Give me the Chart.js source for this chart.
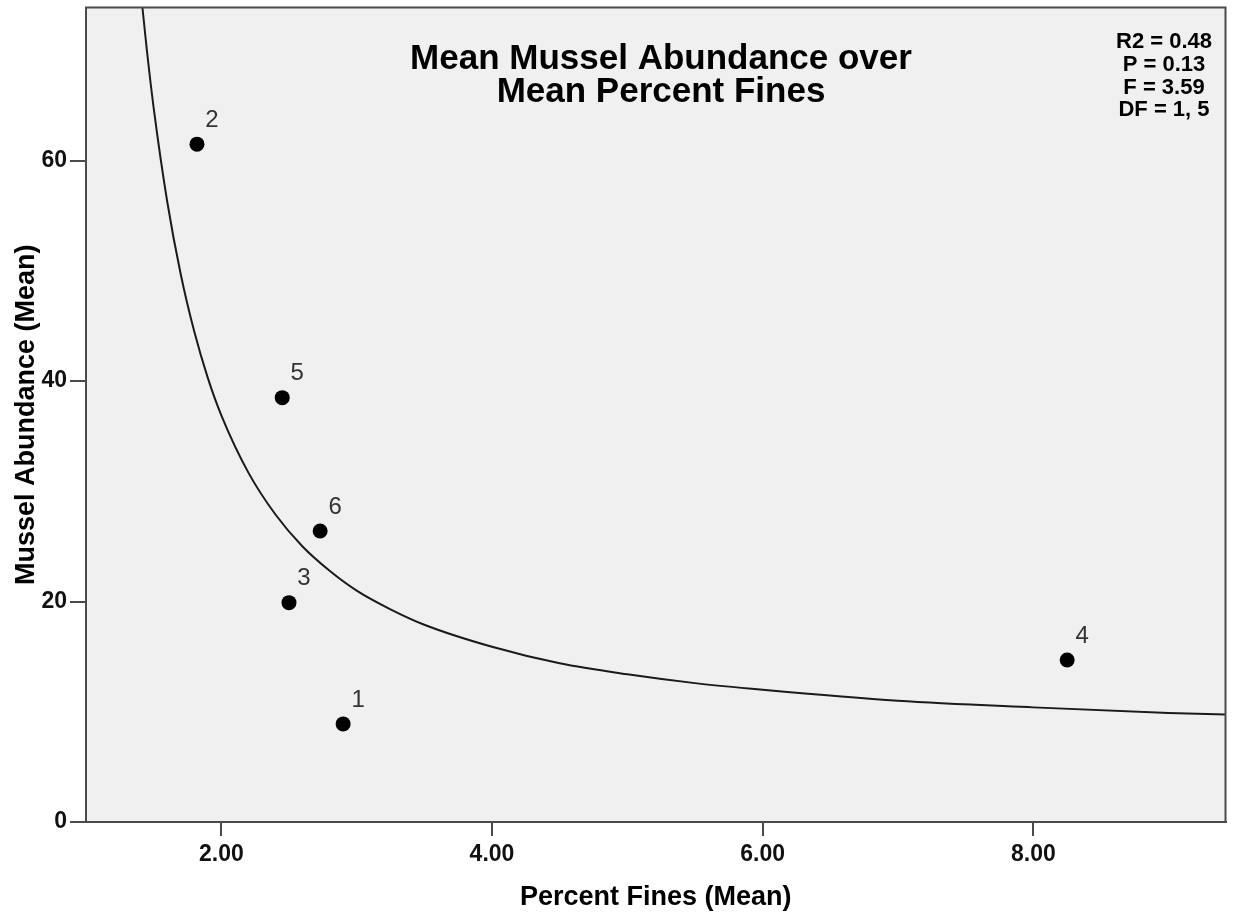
<!DOCTYPE html>
<html>
<head>
<meta charset="utf-8">
<script src="https://cdn.jsdelivr.net/npm/chart.js@4/dist/chart.umd.min.js"></script>
<style>
  html, body { margin: 0; padding: 0; background: #ffffff; overflow: hidden; }
  #wrap { width: 1233px; height: 919px; position: relative; }
  #chart { display: block; }
</style>
</head>
<body>
<div id="wrap"><canvas id="chart"></canvas></div>
<script>
// Case numbers and their means
const caseIds = ['1', '2', '3', '4', '5', '6'];
const percentFines = [2.90, 1.82, 2.50, 8.25, 2.45, 2.73];
const musselAbundance = [8.9, 61.5, 19.9, 14.7, 38.5, 26.4];

// Fitted curve, traced along its length
const fitX = [1.417, 1.45, 1.5, 1.6, 1.7, 1.8, 1.9, 2.0, 2.2, 2.4, 2.6, 2.8, 3.0, 3.25, 3.5, 4.0, 4.5, 5.0, 5.5, 6.0, 7.0, 8.0, 9.0, 9.42];
const fitY = [73.9, 70.0, 64.8, 56.3, 49.7, 44.5, 40.3, 36.9, 31.7, 27.9, 25.0, 22.8, 21.0, 19.3, 17.9, 15.9, 14.4, 13.4, 12.6, 12.0, 11.0, 10.4, 9.9, 9.76];

// Axis ticks
const xTicks = [2, 4, 6, 8];
const yTicks = [0, 20, 40, 60];

// Chart text
const titleLines = ['Mean Mussel Abundance over', 'Mean Percent Fines'];
const statLines = ['R2 = 0.48', 'P = 0.13', 'F = 3.59', 'DF = 1, 5'];
const xTitle = 'Percent Fines (Mean)';
const yTitle = 'Mussel Abundance (Mean)';

const FONT = '"Liberation Sans", Arial, sans-serif';
const AXIS_COLOR = '#4a4a4a';

const plotFrame = {
  id: 'plotFrame',
  beforeDatasetsDraw(chart) {
    const { ctx, chartArea: a } = chart;
    ctx.save();
    ctx.fillStyle = '#f0f0f0';
    ctx.fillRect(a.left, a.top, a.right - a.left, a.bottom - a.top);
    ctx.restore();
  },
  afterDatasetsDraw(chart) {
    const { ctx, chartArea: a } = chart;
    ctx.save();
    ctx.strokeStyle = AXIS_COLOR;
    ctx.lineWidth = 2;
    ctx.strokeRect(a.left, a.top, a.right - a.left, a.bottom - a.top);
    ctx.restore();
  }
};

const annotations = {
  id: 'annotations',
  afterDatasetsDraw(chart) {
    const { ctx } = chart;
    ctx.save();
    // case number next to each point
    const meta = chart.getDatasetMeta(0);
    ctx.fillStyle = '#333333';
    ctx.font = '24px ' + FONT;
    ctx.textAlign = 'center';
    ctx.textBaseline = 'middle';
    meta.data.forEach((pt, i) => {
      ctx.fillText(caseIds[i], pt.x + 15, pt.y - 24);
    });
    // title inside the plot
    ctx.fillStyle = '#000000';
    ctx.font = 'bold 35px ' + FONT;
    ctx.textBaseline = 'alphabetic';
    ctx.fillText(titleLines[0], 661, 69);
    ctx.fillText(titleLines[1], 661, 101.5);
    // fit statistics
    ctx.font = 'bold 22px ' + FONT;
    const baselines = [48, 71, 93.5, 116];
    statLines.forEach((s, i) => ctx.fillText(s, 1164, baselines[i]));
    ctx.restore();
  }
};

new Chart(document.getElementById('chart'), {
  type: 'scatter',
  data: {
    datasets: [
      {
        label: 'Cases',
        data: percentFines.map((x, i) => ({ x: x, y: musselAbundance[i] })),
        pointRadius: 7.5,
        pointBackgroundColor: '#000000',
        pointBorderWidth: 0,
        pointHoverRadius: 7.5
      },
      {
        label: 'Fit',
        data: fitX.map((x, i) => ({ x: x, y: fitY[i] })),
        showLine: true,
        pointRadius: 0,
        pointHoverRadius: 0,
        borderColor: '#1a1a1a',
        borderWidth: 2,
        cubicInterpolationMode: 'monotone',
        fill: false
      }
    ]
  },
  options: {
    responsive: true,
    maintainAspectRatio: false,
    animation: false,
    events: [],
    layout: { padding: { top: 5, right: 2, left: 0, bottom: 0 } },
    plugins: {
      legend: { display: false },
      tooltip: { enabled: false }
    },
    scales: {
      x: {
        type: 'linear',
        min: 1.0,
        max: 9.42,
        afterBuildTicks: (s) => { s.ticks = xTicks.map(v => ({ value: v })); },
        afterFit: (s) => { s.height = 97; s.paddingLeft = 0; s.paddingRight = 0; },
        ticks: {
          callback: (v) => Number(v).toFixed(2),
          font: { family: FONT, size: 23, weight: 'bold' },
          color: '#111111',
          padding: 5,
          maxRotation: 0
        },
        grid: {
          drawOnChartArea: false,
          drawTicks: true,
          tickLength: 14,
          color: AXIS_COLOR,
          lineWidth: 2
        },
        border: { display: true, color: AXIS_COLOR, width: 2 },
        title: {
          display: true,
          text: xTitle,
          font: { family: FONT, size: 27, weight: 'bold' },
          color: '#000000',
          padding: { top: 0, bottom: 5 }
        }
      },
      y: {
        type: 'linear',
        min: 0,
        max: 73.9,
        afterBuildTicks: (s) => { s.ticks = yTicks.map(v => ({ value: v })); },
        afterFit: (s) => { s.width = 86; s.paddingTop = 0; s.paddingBottom = 0; },
        ticks: {
          font: { family: FONT, size: 23, weight: 'bold' },
          color: '#111111',
          padding: 3
        },
        grid: {
          drawOnChartArea: false,
          drawTicks: true,
          tickLength: 16,
          color: AXIS_COLOR,
          lineWidth: 2
        },
        border: { display: true, color: AXIS_COLOR, width: 2 },
        title: {
          display: true,
          text: yTitle,
          font: { family: FONT, size: 27, weight: 'bold' },
          color: '#000000',
          padding: { top: 10, bottom: 0 }
        }
      }
    }
  },
  plugins: [plotFrame, annotations]
});
</script>
</body>
</html>
